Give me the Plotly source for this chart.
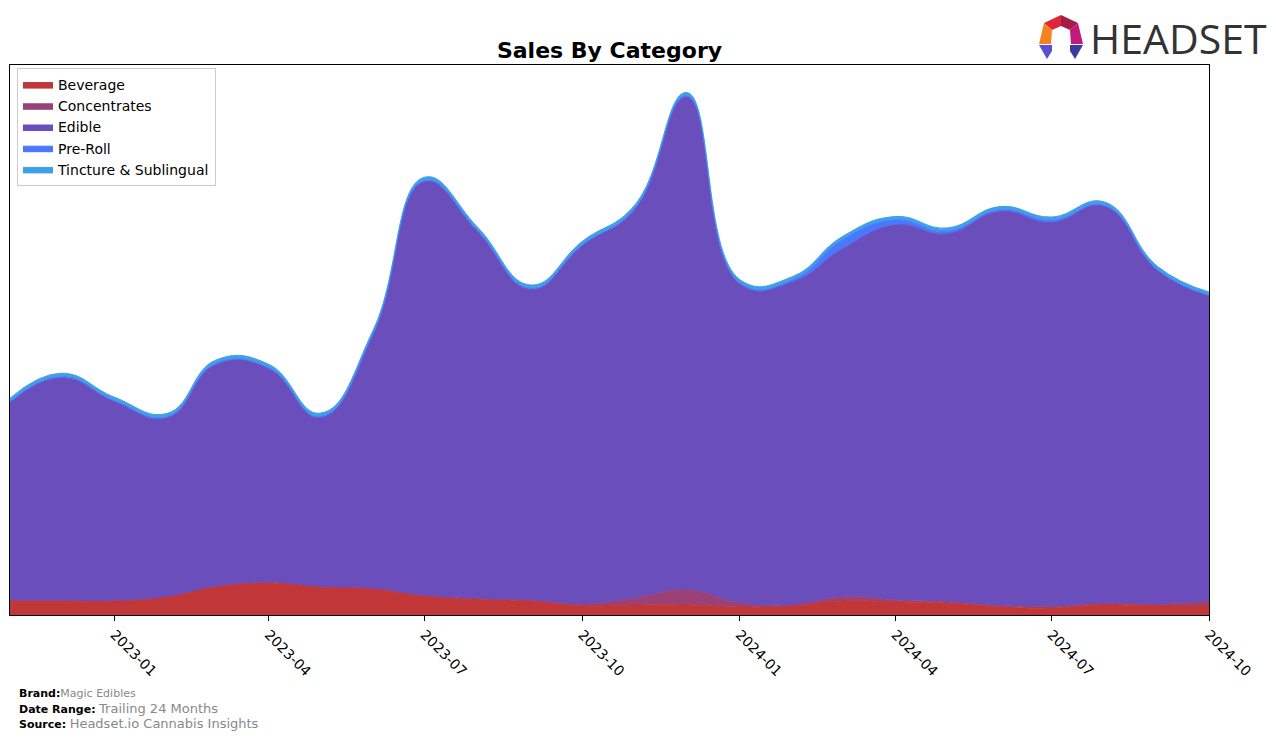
import plotly.graph_objects as go

# ---------------- data (monthly, arbitrary sales units) ----------------
months = ["2022-11-01", "2022-12-01", "2023-01-01", "2023-02-01", "2023-03-01", "2023-04-01",
          "2023-05-01", "2023-06-01", "2023-07-01", "2023-08-01", "2023-09-01", "2023-10-01",
          "2023-11-01", "2023-12-01", "2024-01-01", "2024-02-01", "2024-03-01", "2024-04-01",
          "2024-05-01", "2024-06-01", "2024-07-01", "2024-08-01", "2024-09-01", "2024-10-01"]

beverage = [14, 14, 14, 18, 28, 32, 28, 26, 19, 16, 14, 9,
            10, 10, 8, 9, 14, 13, 12, 8, 7, 10, 9, 9]
concentrates = [0.3, 0.3, 0.3, 0.3, 0.3, 0.3, 0.3, 0.3, 0.3, 0.3, 0.5, 2,
                7, 15, 4, 1, 4, 2, 1, 1.5, 1.5, 1.5, 1.5, 5]
edible = [198, 223, 199, 179, 222, 214, 169, 254, 414, 367, 311, 358,
          389, 493, 319, 323, 348, 375, 368, 394, 384, 397, 334, 305]
pre_roll = [1, 1, 1, 1, 1, 1, 1, 1, 1, 1, 1, 1,
            1, 1, 1, 2, 9, 5, 2.5, 1.5, 2, 1, 0.5, 0.5]
tincture = [3.5, 3.5, 3.5, 3.5, 3.5, 3.5, 3.5, 3.5, 3.5, 3.5, 3.5, 3.5,
            3.5, 3.5, 3.5, 3.5, 3.5, 3.5, 3.5, 3.5, 3.5, 3.5, 3.5, 3.5]

series_names = ["Beverage", "Concentrates", "Edible", "Pre-Roll", "Tincture & Sublingual"]
series_values = [beverage, concentrates, edible, pre_roll, tincture]
series_colors = ["#c13637", "#9a4178", "#6a4ebc", "#4a78fd", "#3fa0e8"]

tick_dates = ["2023-01-01", "2023-04-01", "2023-07-01", "2023-10-01",
              "2024-01-01", "2024-04-01", "2024-07-01", "2024-10-01"]
tick_labels = ["2023-01", "2023-04", "2023-07", "2023-10",
               "2024-01", "2024-04", "2024-07", "2024-10"]

# ---------------- layout helpers ----------------
W, H = 1276, 740
PL, PR, PT, PB = 10, 1209, 65, 615


def px(x, y):
    return (x - PL) / (PR - PL), (PB - y) / (PB - PT)


fig = go.Figure()
for name, vals, col in zip(series_names, series_values, series_colors):
    fig.add_trace(go.Scatter(
        x=months, y=vals, name=name, mode="lines",
        stackgroup="one", line=dict(color=col, width=1, shape="spline", smoothing=1.3),
        fillcolor=col, hoverinfo="skip"))

fig.update_layout(
    width=W, height=H,
    margin=dict(l=PL, r=W - PR, t=PT, b=H - PB),
    paper_bgcolor="white", plot_bgcolor="white",
    font=dict(family="DejaVu Sans", color="#000000"),
    title=dict(text="<b>Sales By Category</b>", x=(PL + PR) / 2 / W, xanchor="center",
               y=1 - 50 / H, yanchor="middle", font=dict(size=22, family="DejaVu Sans")),
    showlegend=True,
    legend=dict(x=px(17, 0)[0], y=px(0, 68)[1], xanchor="left", yanchor="top",
                bgcolor="white", bordercolor="#cccccc", borderwidth=1,
                font=dict(size=14, family="DejaVu Sans"), traceorder="normal",
                tracegroupgap=0, itemwidth=30),
    xaxis=dict(type="date", range=[months[0], months[-1]],
               tickvals=tick_dates, ticktext=tick_labels, tickangle=45,
               ticks="outside", ticklen=5, tickcolor="black",
               tickfont=dict(size=14, family="DejaVu Sans"),
               showgrid=False, zeroline=False, showline=True, linecolor="black",
               linewidth=1, mirror=True),
    yaxis=dict(range=[0, 550], showticklabels=False, ticks="", showgrid=False,
               zeroline=False, showline=True, linecolor="black", linewidth=1, mirror=True),
)

# ---------------- footer ----------------
footer = [
    (693, "<b>Brand:</b><span style='font-size:11px;color:#888888'>Magic Edibles</span>"),
    (708, "<b>Date Range:</b> <span style='font-size:13px;color:#888888'>Trailing 24 Months</span>"),
    (723, "<b>Source:</b> <span style='font-size:13px;color:#888888'>Headset.io Cannabis Insights</span>"),
]
for yy, txt in footer:
    xp, yp = px(17, yy)
    fig.add_annotation(x=xp, y=yp, xref="paper", yref="paper", text=txt, showarrow=False,
                       xanchor="left", yanchor="middle", font=dict(size=11, family="DejaVu Sans", color="#000000"))

# ---------------- logo ----------------
xp, yp = px(1088, 38)
fig.add_annotation(x=xp, y=yp, xref="paper", yref="paper", text="HEADSET", showarrow=False,
                   xanchor="left", yanchor="middle",
                   font=dict(size=41, family="Open Sans, sans-serif", color="#333333"))

icon = [
    ([(1044, 23), (1061, 15), (1061, 26), (1052, 30)], "#e0243c"),
    ([(1061, 15), (1078, 23), (1070, 30), (1061, 26)], "#a51d45"),
    ([(1044, 23), (1052, 30), (1051, 44), (1039, 44)], "#f5821f"),
    ([(1078, 23), (1070, 30), (1071, 44), (1083, 44)], "#c21a78"),
    ([(1039, 45), (1052, 45), (1052, 51), (1047, 59)], "#5b50d0"),
    ([(1070, 45), (1083, 45), (1075, 59), (1070, 51)], "#3c3aa2"),
]
for pts, col in icon:
    path = ""
    for i, (x, y) in enumerate(pts):
        a, b = px(x, y)
        path += ("M" if i == 0 else "L") + f"{a:.5f},{b:.5f} "
    path += "Z"
    fig.add_shape(type="path", path=path, xref="paper", yref="paper",
                  fillcolor=col, line=dict(width=0), layer="above")

fig.write_html("out.html")
